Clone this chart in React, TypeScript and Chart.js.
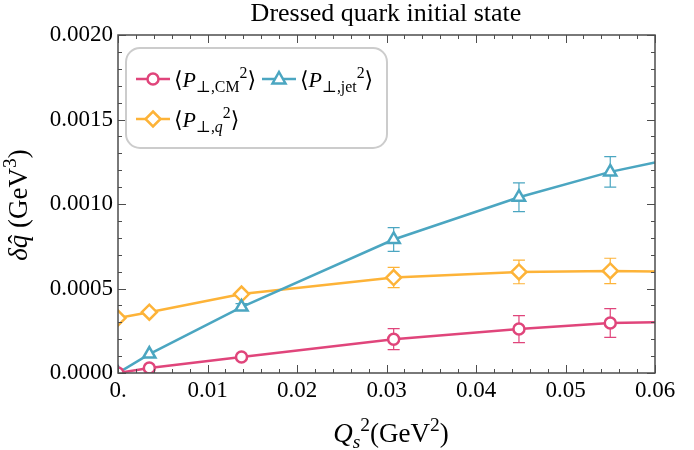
import React, { useEffect, useRef } from "react";
import { Chart, registerables } from "chart.js";

Chart.register(...registerables);

const qs2 = [0, 0.0035, 0.0138, 0.0308, 0.0448, 0.055, 0.06];
const pCM = [0, 0.00003, 0.000095, 0.0002, 0.00026, 0.000296, 0.0003];
const pCMErr = [0, 0, 0.00001, 0.000062, 0.00008, 0.000085, 0];
const pJet = [0, 0.000112, 0.00039, 0.00079, 0.00104, 0.00119, 0.001245];
const pJetErr = [0, 0, 0.00002, 0.00007, 0.000085, 0.00009, 0];
const pQ = [0.000325, 0.00036, 0.000467, 0.000565, 0.000598, 0.000604, 0.0006];
const pQErr = [0, 0, 0.00001, 0.00006, 0.00007, 0.000075, 0];
const xTicks = ["0.", "0.01", "0.02", "0.03", "0.04", "0.05", "0.06"];
const yTicks = ["0.0000", "0.0005", "0.0010", "0.0015", "0.0020"];

const PINK = "#e0457b";
const BLUE = "#4ba6c1";
const ORANGE = "#fdb338";
const FRAME = "#4d4d4d";
const FONT = '"Liberation Serif", "DejaVu Serif", serif';

type Seg = { t: string; it?: boolean; sub?: boolean; sup?: boolean; hat?: boolean };

function drawRich(ctx: CanvasRenderingContext2D, x: number, y: number, segs: Seg[], base: number, draw = true) {
  let cx = x;
  ctx.textBaseline = "alphabetic";
  ctx.textAlign = "left";
  for (const s of segs) {
    const size = s.sub || s.sup ? base * 0.72 : base;
    ctx.font = `${s.it ? "italic " : ""}${size}px ${FONT}`;
    const dy = s.sub ? base * 0.22 : s.sup ? -base * 0.42 : 0;
    const w = ctx.measureText(s.t).width;
    if (draw) {
      ctx.fillText(s.t, cx, y + dy);
      if (s.hat) {
        ctx.font = `${base}px ${FONT}`;
        const hw = ctx.measureText("ˆ").width;
        ctx.fillText("ˆ", cx + w / 2 - hw / 2 + base * 0.08, y);
      }
    }
    cx += w;
  }
  return cx - x;
}

const data = (ys: number[]) => qs2.map((x, i) => ({ x, y: ys[i] }));
const lastIdx = qs2.length - 1;

const errPlugin = {
  id: "errbars",
  beforeDatasetsDraw(chart: any) {
    const ctx = chart.ctx;
    const xs = chart.scales.x;
    const ys = chart.scales.y;
    const sets = [
      { v: pCM, e: pCMErr, c: PINK },
      { v: pJet, e: pJetErr, c: BLUE },
      { v: pQ, e: pQErr, c: ORANGE },
    ];
    ctx.save();
    ctx.lineWidth = 1.2;
    for (const s of sets) {
      ctx.strokeStyle = s.c;
      qs2.forEach((x, i) => {
        if (!s.e[i]) return;
        const px = xs.getPixelForValue(x);
        const top = ys.getPixelForValue(s.v[i] + s.e[i]);
        const bot = ys.getPixelForValue(s.v[i] - s.e[i]);
        ctx.beginPath();
        ctx.moveTo(px, top);
        ctx.lineTo(px, bot);
        ctx.moveTo(px - 6, top);
        ctx.lineTo(px + 6, top);
        ctx.moveTo(px - 6, bot);
        ctx.lineTo(px + 6, bot);
        ctx.stroke();
      });
    }
    ctx.restore();
  },
};

const decoPlugin = {
  id: "deco",
  afterDraw(chart: any) {
    const ctx: CanvasRenderingContext2D = chart.ctx;
    const { left, right, top, bottom } = chart.chartArea;
    const xs = chart.scales.x;
    const ys = chart.scales.y;
    ctx.save();
    // ticks
    ctx.strokeStyle = FRAME;
    ctx.lineWidth = 1;
    ctx.beginPath();
    for (let i = 0; i <= 30; i++) {
      const v = i * 0.002;
      const px = Math.round(xs.getPixelForValue(v)) + 0.5;
      const len = i % 5 === 0 ? 8 : 4;
      ctx.moveTo(px, bottom);
      ctx.lineTo(px, bottom - len);
      ctx.moveTo(px, top);
      ctx.lineTo(px, top + len);
    }
    for (let i = 0; i <= 20; i++) {
      const v = i * 0.0001;
      const py = Math.round(ys.getPixelForValue(v)) + 0.5;
      const len = i % 5 === 0 ? 8 : 4;
      ctx.moveTo(left, py);
      ctx.lineTo(left + len, py);
      ctx.moveTo(right, py);
      ctx.lineTo(right - len, py);
    }
    ctx.stroke();
    // frame
    ctx.lineWidth = 1.5;
    ctx.strokeRect(left, top, right - left, bottom - top);

    // legend
    const lx = 126, ly = 48, lw = 261, lh = 100, r = 14;
    ctx.beginPath();
    ctx.moveTo(lx + r, ly);
    ctx.arcTo(lx + lw, ly, lx + lw, ly + lh, r);
    ctx.arcTo(lx + lw, ly + lh, lx, ly + lh, r);
    ctx.arcTo(lx, ly + lh, lx, ly, r);
    ctx.arcTo(lx, ly, lx + lw, ly, r);
    ctx.closePath();
    ctx.fillStyle = "rgba(255,255,255,0.9)";
    ctx.fill();
    ctx.strokeStyle = "#cccccc";
    ctx.lineWidth = 2;
    ctx.stroke();

    const entries = [
      { x: 136, y: 79, c: PINK, m: "circle", segs: [{ t: "⟨" }, { t: "P", it: true }, { t: "⊥,CM", sub: true }, { t: "2", sup: true }, { t: "⟩" }] },
      { x: 262, y: 79, c: BLUE, m: "triangle", segs: [{ t: "⟨" }, { t: "P", it: true }, { t: "⊥,jet", sub: true }, { t: "2", sup: true }, { t: "⟩" }] },
      { x: 136, y: 119, c: ORANGE, m: "diamond", segs: [{ t: "⟨" }, { t: "P", it: true }, { t: "⊥,", sub: true }, { t: "q", sub: true, it: true }, { t: "2", sup: true }, { t: "⟩" }] },
    ];
    for (const e of entries) {
      ctx.strokeStyle = e.c;
      ctx.lineWidth = 2.5;
      ctx.beginPath();
      ctx.moveTo(e.x, e.y);
      ctx.lineTo(e.x + 34, e.y);
      ctx.stroke();
      const cx = e.x + 17;
      ctx.fillStyle = "#fff";
      ctx.beginPath();
      if (e.m === "circle") {
        ctx.arc(cx, e.y, 5.5, 0, Math.PI * 2);
      } else if (e.m === "triangle") {
        ctx.moveTo(cx, e.y - 7);
        ctx.lineTo(cx + 6.5, e.y + 4.5);
        ctx.lineTo(cx - 6.5, e.y + 4.5);
        ctx.closePath();
      } else {
        ctx.moveTo(cx, e.y - 7.5);
        ctx.lineTo(cx + 7.5, e.y);
        ctx.lineTo(cx, e.y + 7.5);
        ctx.lineTo(cx - 7.5, e.y);
        ctx.closePath();
      }
      ctx.fill();
      ctx.stroke();
      ctx.fillStyle = "#000";
      drawRich(ctx, e.x + 38, e.y + 8, e.segs, 22);
    }

    // title
    ctx.fillStyle = "#000";
    ctx.textAlign = "center";
    ctx.textBaseline = "alphabetic";
    ctx.font = `26px ${FONT}`;
    ctx.fillText("Dressed quark initial state", 386, 21);

    // x label
    const xl: Seg[] = [{ t: "Q", it: true }, { t: "s", it: true, sub: true }, { t: "2", sup: true }, { t: "(GeV" }, { t: "2", sup: true }, { t: ")" }];
    const xw = drawRich(ctx, 0, 0, xl, 27, false);
    drawRich(ctx, 391 - xw / 2, 442, xl, 27);

    // y label
    const yl: Seg[] = [{ t: "δ", it: true }, { t: "q", it: true, hat: true }, { t: " (GeV" }, { t: "3", sup: true }, { t: ")" }];
    const yw = drawRich(ctx, 0, 0, yl, 27, false);
    ctx.translate(27, 205);
    ctx.rotate(-Math.PI / 2);
    drawRich(ctx, -yw / 2, 0, yl, 27);
    ctx.restore();
  },
};

export default function App() {
  const ref = useRef<HTMLCanvasElement>(null);
  useEffect(() => {
    document.body.style.margin = "0";
    const pr = (ctx: any) => (ctx.dataIndex === lastIdx ? 0 : undefined);
    const chart = new Chart(ref.current!, {
      type: "line",
      data: {
        datasets: [
          { data: data(pCM), borderColor: PINK, backgroundColor: "#fff", pointStyle: "circle", pointRadius: (c: any) => pr(c) ?? 5.5, pointBorderWidth: 2.5, borderWidth: 2.5, clip: 0 } as any,
          { data: data(pJet), borderColor: BLUE, backgroundColor: "#fff", pointStyle: "triangle", pointRadius: (c: any) => pr(c) ?? 7, pointBorderWidth: 2.5, borderWidth: 2.5, clip: 0 } as any,
          { data: data(pQ), borderColor: ORANGE, backgroundColor: "#fff", pointStyle: "rectRot", pointRadius: (c: any) => pr(c) ?? 7.5, pointBorderWidth: 2.5, borderWidth: 2.5, clip: 0 } as any,
        ],
      },
      options: {
        animation: false,
        responsive: false,
        devicePixelRatio: 1,
        layout: { padding: { top: 35, right: 39, left: 0, bottom: 0 } },
        plugins: { legend: { display: false }, tooltip: { enabled: false } },
        elements: { line: { tension: 0 } },
        scales: {
          x: {
            type: "linear",
            min: 0,
            max: 0.06,
            grid: { display: false, drawTicks: false },
            border: { display: false },
            ticks: {
              stepSize: 0.01,
              padding: 4,
              color: "#000",
              font: { family: FONT, size: 23 },
              maxRotation: 0,
              autoSkip: false,
              callback: (v: any) => xTicks[Math.round(Number(v) / 0.01)] ?? "",
            },
            afterFit: (s: any) => { s.height = 77; },
          },
          y: {
            type: "linear",
            min: 0,
            max: 0.002,
            grid: { display: false, drawTicks: false },
            border: { display: false },
            ticks: {
              stepSize: 0.0005,
              padding: 5,
              color: "#000",
              font: { family: FONT, size: 23 },
              autoSkip: false,
              callback: (v: any) => yTicks[Math.round(Number(v) / 0.0005)] ?? "",
            },
            afterFit: (s: any) => { s.width = 118; },
          },
        },
      } as any,
      plugins: [errPlugin, decoPlugin],
    });
    return () => chart.destroy();
  }, []);
  return (
    <div style={{ width: 694, height: 450 }}>
      <canvas ref={ref} width={694} height={450} />
    </div>
  );
}
